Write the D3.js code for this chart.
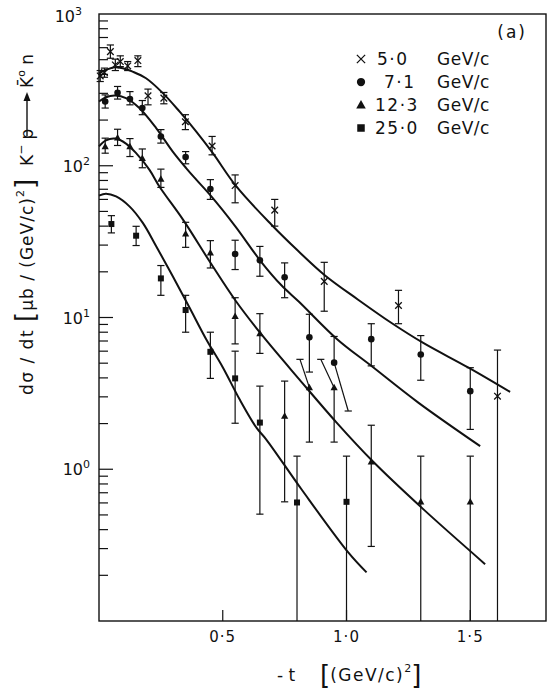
<!DOCTYPE html>
<html><head><meta charset="utf-8">
<script src="https://cdn.jsdelivr.net/npm/d3@7"></script>
<style>
body{margin:0;background:#fff}
svg{display:block;background:#fff}
text{font-family:"DejaVu Sans",sans-serif;fill:#111}
</style>
</head><body>
<svg id="c" width="547" height="692"></svg>
<script>
// ---------------- data ----------------
const seriesNames = ["5.0", "7.1", "12.3", "25.0"];
const legendLabels = ["5·0", "7·1", "12·3", "25·0"];
const xTickValues = [0.5, 1.0, 1.5];
const xTickLabels = ["0·5", "1·0", "1·5"];
const yTickValues = [1, 10, 100, 1000];
const yTickExps = ["0", "1", "2", "3"];

// 5.0 GeV/c (crosses)
const t5  = [0.005, 0.022, 0.046, 0.066, 0.086, 0.116, 0.157, 0.198, 0.262, 0.349, 0.457, 0.55, 0.71, 0.91, 1.21, 1.61];
const v5  = [391, 411, 565, 462, 486, 455, 493, 289, 279, 195, 135, 74, 51, 17.3, 12.0, 3.03];
const lo5 = [359, 383, 511, 424, 450, 424, 450, 252, 256, 173, 118, 57, 40, 11, 9.1, 0];
const hi5 = [424, 440, 625, 504, 530, 486, 530, 320, 304, 217, 156, 87, 60, 23.1, 15.1, 6.1];
// 7.1 GeV/c (circles)
const t7  = [0.025, 0.075, 0.125, 0.175, 0.25, 0.35, 0.45, 0.55, 0.65, 0.75, 0.85, 0.95, 1.1, 1.3, 1.5];
const v7  = [265, 303, 275, 240, 156, 114, 70.3, 26.2, 23.8, 18.4, 7.4, 5.04, 7.2, 5.7, 3.27];
const lo7 = [240, 275, 252, 217, 141, 103, 60, 20.7, 18.7, 13.5, 4.37, 2.42, 4.8, 3.86, 1.83];
const hi7 = [293, 333, 308, 269, 173, 124, 81, 32.3, 29.4, 22.9, 10.5, 7.5, 9.1, 7.6, 4.67];
// 12.3 GeV/c (triangles)
const t12  = [0.025, 0.075, 0.125, 0.175, 0.25, 0.35, 0.45, 0.55, 0.65, 0.75, 0.85, 0.95, 1.1, 1.3, 1.5];
const v12  = [134, 153, 134, 112, 81.6, 35.6, 26.7, 10.2, 7.85, 2.24, 3.45, 3.45, 1.12, 0.61, 0.61];
const lo12 = [121, 136, 115, 97, 72, 29, 21.2, 6.7, 5.8, 0.61, 1.51, 1.51, 0.31, 0, 0];
const hi12 = [152, 174, 151, 129, 95, 42.4, 32.1, 13.5, 10.6, 3.81, 5.3, 5.3, 1.95, 1.22, 1.22];
// 25.0 GeV/c (squares)
const t25  = [0.05, 0.15, 0.25, 0.35, 0.45, 0.55, 0.65, 0.8, 1.0];
const v25  = [41.3, 34.6, 18.1, 11.2, 5.94, 3.97, 2.03, 0.604, 0.61];
const lo25 = [36.1, 29.8, 14, 8.0, 3.97, 2.01, 0.506, 0, 0];
const hi25 = [46.9, 39.9, 22, 14, 8.0, 6.0, 3.53, 1.22, 1.22];

// error bars drawn slanted in the original
const slantSeries = ["12.3", "12.3", "7.1"];
const slantT      = [0.85, 0.95, 0.95];
const slantSide   = ["hi", "hi", "lo"];
const slantEndT   = [0.812, 0.896, 1.007];

// fitted curves
const ct5 = [0, 0.028, 0.062, 0.096, 0.136, 0.19, 0.258, 0.325, 0.393, 0.46, 0.555, 0.696, 0.804, 0.912, 1.047, 1.182, 1.31, 1.493, 1.661];
const cv5 = [407, 428, 446, 439, 417, 377, 301, 228, 168, 121, 73, 41, 27.5, 19, 13.1, 9.2, 6.8, 4.67, 3.23];
const ct7 = [0, 0.028, 0.066, 0.109, 0.163, 0.231, 0.298, 0.352, 0.393, 0.453, 0.55, 0.656, 0.737, 0.808, 0.962, 1.101, 1.29, 1.54];
const cv7 = [265, 283, 290, 279, 240, 177, 124, 96.6, 81, 63, 40, 23.2, 16.3, 12.7, 7.2, 4.79, 2.75, 1.42];
const ct12 = [0, 0.028, 0.066, 0.109, 0.15, 0.204, 0.244, 0.34, 0.453, 0.552, 0.663, 0.81, 0.96, 1.108, 1.31, 1.56];
const cv12 = [134, 147, 151, 140, 121, 94, 73, 44, 22.6, 12.9, 7.5, 3.9, 2.03, 1.12, 0.546, 0.237];
const ct25 = [0, 0.028, 0.069, 0.123, 0.177, 0.231, 0.298, 0.366, 0.433, 0.501, 0.568, 0.636, 0.676, 0.818, 1.007, 1.081];
const cv25 = [63.5, 65.5, 62.8, 54, 42, 29.5, 18.7, 11.6, 7.2, 4.67, 2.89, 1.88, 1.57, 0.738, 0.283, 0.209];

// ---------------- drawing ----------------
const svg = d3.select("#c");
const x = d3.scaleLinear().domain([0, 1.806]).range([99, 546]);
const y = d3.scaleLog().domain([0.1, 1000]).range([621, 14]);
const ink = "#111";

const series = [
  {name: "5.0", shape: "cross", t: t5, v: v5, lo: lo5, hi: hi5, ct: ct5, cv: cv5},
  {name: "7.1", shape: "circle", t: t7, v: v7, lo: lo7, hi: hi7, ct: ct7, cv: cv7},
  {name: "12.3", shape: "triangle", t: t12, v: v12, lo: lo12, hi: hi12, ct: ct12, cv: cv12},
  {name: "25.0", shape: "square", t: t25, v: v25, lo: lo25, hi: hi25, ct: ct25, cv: cv25}
];

// frame
const [x0, x1] = x.range(), [yb, yt] = y.range();
svg.append("rect").attr("x", x0).attr("y", yt).attr("width", x1 - x0).attr("height", yb - yt)
  .attr("fill", "none").attr("stroke", ink).attr("stroke-width", 1.4);

// y ticks (inside)
const yt2 = svg.append("g");
for (let d = -1; d <= 2; d++) {
  for (let k = 1; k <= 9; k++) {
    const val = k * Math.pow(10, d);
    if (val <= 0.1) continue;
    const len = k === 1 ? 14 : 9;
    yt2.append("line").attr("x1", x0).attr("x2", x0 + len).attr("y1", y(val)).attr("y2", y(val))
      .attr("stroke", ink).attr("stroke-width", 1.2);
  }
}
yTickValues.forEach((v, i) => {
  const t = svg.append("text").attr("x", i === 3 ? 82 : 90).attr("y", y(v) + (i === 3 ? 8 : 6))
    .attr("text-anchor", "end").attr("font-size", 16);
  t.append("tspan").text("10");
  t.append("tspan").attr("font-size", 11).attr("dy", -7).text(yTickExps[i]);
});

// x ticks
xTickValues.forEach((v, i) => {
  svg.append("line").attr("x1", x(v)).attr("x2", x(v)).attr("y1", yb).attr("y2", yb - 11)
    .attr("stroke", ink).attr("stroke-width", 1.2);
  svg.append("text").attr("x", x(v)).attr("y", 642).attr("text-anchor", "middle")
    .attr("font-size", 15).attr("letter-spacing", 1).text(xTickLabels[i]);
});

// curves
const line = d3.line().x(d => x(d[0])).y(d => y(d[1])).curve(d3.curveCatmullRom.alpha(0.5));
series.forEach(s => {
  svg.append("path").attr("d", line(s.ct.map((t, i) => [t, s.cv[i]])))
    .attr("fill", "none").attr("stroke", ink).attr("stroke-width", 2);
});

// error bars
const cap = 3.6;
const eb = svg.append("g").attr("stroke", ink).attr("stroke-width", 1.2);
function capAt(cx, cy) {
  eb.append("line").attr("x1", cx - cap).attr("x2", cx + cap).attr("y1", cy).attr("y2", cy);
}
series.forEach(s => {
  s.t.forEach((t, i) => {
    let tHi = t, tLo = t;
    slantSeries.forEach((n, j) => {
      if (n === s.name && Math.abs(slantT[j] - t) < 1e-6) {
        if (slantSide[j] === "hi") tHi = slantEndT[j]; else tLo = slantEndT[j];
      }
    });
    const px = x(t), py = y(s.v[i]);
    const hx = x(tHi), hy = y(s.hi[i]);
    eb.append("line").attr("x1", px).attr("y1", py).attr("x2", hx).attr("y2", hy);
    capAt(hx, hy);
    const atAxis = s.lo[i] <= 0.1;
    const lv = atAxis ? 0.1 : s.lo[i];
    const lx = x(tLo), ly = y(lv);
    eb.append("line").attr("x1", px).attr("y1", py).attr("x2", lx).attr("y2", ly);
    if (!atAxis) capAt(lx, ly);
  });
});

// markers
function marker(g, shape, cx, cy, size) {
  if (shape === "cross") {
    const h = size * 0.55;
    g.append("path").attr("d", `M${cx-h},${cy-h}L${cx+h},${cy+h}M${cx-h},${cy+h}L${cx+h},${cy-h}`)
      .attr("stroke", ink).attr("stroke-width", 1.3).attr("fill", "none");
  } else if (shape === "circle") {
    g.append("circle").attr("cx", cx).attr("cy", cy).attr("r", size * 0.55).attr("fill", ink);
  } else if (shape === "triangle") {
    const h = size * 0.6;
    g.append("path").attr("d", `M${cx},${cy-h*1.05}L${cx+h},${cy+h*0.75}L${cx-h},${cy+h*0.75}Z`).attr("fill", ink);
  } else {
    const h = size * 0.5;
    g.append("rect").attr("x", cx - h).attr("y", cy - h).attr("width", 2*h).attr("height", 2*h).attr("fill", ink);
  }
}
const mk = svg.append("g");
series.forEach(s => {
  s.t.forEach((t, i) => marker(mk, s.shape, x(t), y(s.v[i]), 6));
});

// legend
svg.append("text").attr("x", 527).attr("y", 38).attr("text-anchor", "end").attr("font-size", 17)
  .attr("letter-spacing", 2).text("(a)");
const rowsY = [59, 82, 105, 128];
const numX = [377, 384, 375, 375];
series.forEach((s, i) => {
  marker(svg, s.shape, 361, rowsY[i], s.shape === "triangle" ? 8 : 7.5);
  svg.append("text").attr("x", numX[i]).attr("y", rowsY[i] + 6).attr("font-size", 17)
    .attr("letter-spacing", 1.5).text(legendLabels[i]);
  svg.append("text").attr("x", 437).attr("y", rowsY[i] + 6).attr("font-size", 17)
    .attr("letter-spacing", 0.5).text("GeV/c");
});

// x axis title
const xt = svg.append("text").attr("y", 681).attr("font-size", 17);
xt.append("tspan").attr("x", 277).text("- t");
xt.append("tspan").attr("x", 320).attr("font-size", 26).attr("dy", 3).text("[");
xt.append("tspan").attr("font-size", 17).attr("dy", -3).attr("letter-spacing", 1.5).text("(GeV/c)");
xt.append("tspan").attr("font-size", 11).attr("dy", -9).text("2");
xt.append("tspan").attr("font-size", 26).attr("dy", 12).text("]");

// y axis title (rotated)
const yg = svg.append("g").attr("transform", "translate(27,0) rotate(-90)");
const t1 = yg.append("text").attr("x", -395).attr("y", 6).attr("font-size", 17).attr("letter-spacing", 1.5);
t1.append("tspan").text("dσ / dt");
const t2 = yg.append("text").attr("x", -322).attr("y", 7).attr("font-size", 17).attr("letter-spacing", 1);
t2.append("tspan").attr("font-size", 26).text("[");
t2.append("tspan").attr("font-size", 17).attr("dy", -1).text("μb / (GeV/c)");
t2.append("tspan").attr("font-size", 11).attr("dy", -9).text("2");
t2.append("tspan").attr("font-size", 26).attr("dy", 10).text("]");
const t3 = yg.append("text").attr("x", -166).attr("y", 6).attr("font-size", 17);
t3.append("tspan").text("K");
t3.append("tspan").attr("font-size", 12).attr("dy", -8).text("−");
t3.append("tspan").attr("font-size", 17).attr("dy", 8).text(" p");
yg.append("line").attr("x1", -136).attr("x2", -96).attr("y1", 0).attr("y2", 0)
  .attr("stroke", ink).attr("stroke-width", 1.4);
yg.append("path").attr("d", "M-92,0L-101,-3.5L-101,3.5Z").attr("fill", ink);
const t4 = yg.append("text").attr("x", -88).attr("y", 6).attr("font-size", 17);
t4.append("tspan").text("K\u0304");
t4.append("tspan").attr("font-size", 11).attr("dy", -8).text("o");
t4.append("tspan").attr("font-size", 17).attr("dy", 8).text(" n");
</script>
</body></html>
